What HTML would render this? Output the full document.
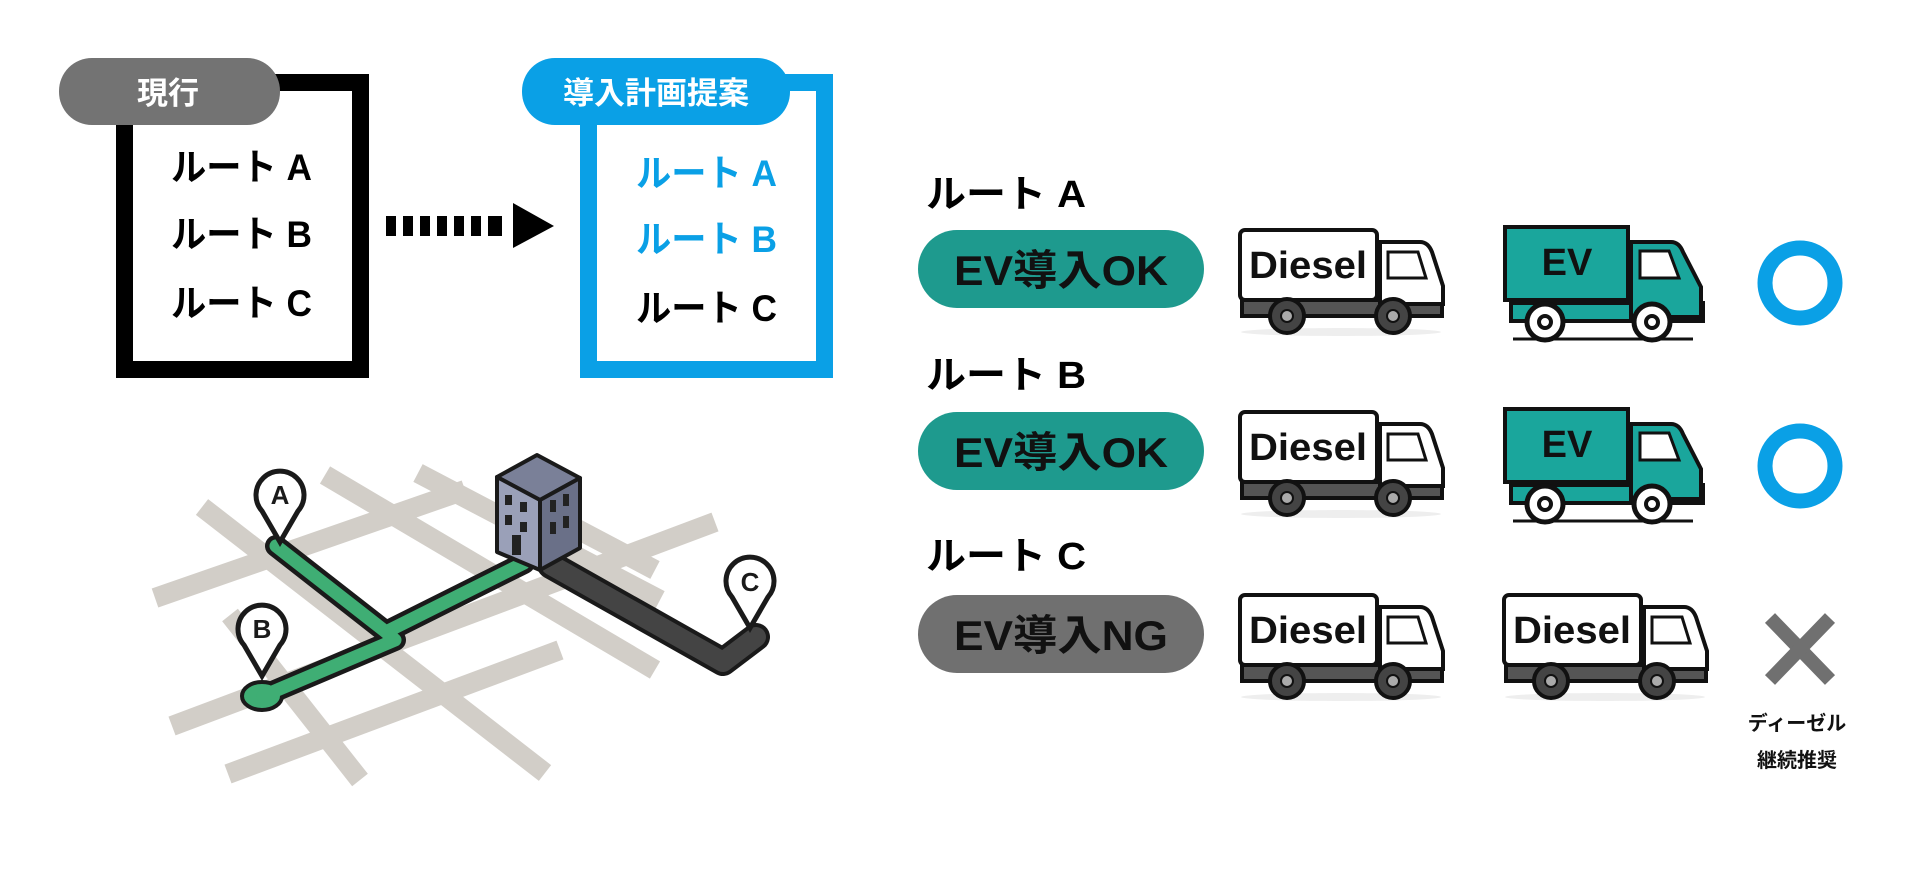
<!DOCTYPE html>
<html><head><meta charset="utf-8"><style>
html,body{margin:0;padding:0;background:#fff;width:1920px;height:869px;overflow:hidden;}
svg{display:block;}
text{font-family:"Liberation Sans","Noto Sans CJK JP",sans-serif;font-weight:bold;}
</style></head><body>
<svg width="1920" height="869" viewBox="0 0 1920 869" xmlns="http://www.w3.org/2000/svg">
<defs>
<g id="diesel">
  <ellipse cx="103" cy="104" rx="100" ry="4" fill="#eee"/>
  <rect x="4" y="72" width="200" height="16" fill="#555" stroke="#111" stroke-width="4"/>
  <path d="M142 14 H182 Q190 14 194 24 L205 58 V76 H142 Z" fill="#fff" stroke="#111" stroke-width="4"/>
  <path d="M150 24 H180 L188 50 H150 Z" fill="#fff" stroke="#111" stroke-width="3"/>
  <rect x="2" y="2" width="137" height="70" rx="5" fill="#fff" stroke="#111" stroke-width="4"/>
  <text x="70" y="50" font-size="38" text-anchor="middle" fill="#111" textLength="118" lengthAdjust="spacingAndGlyphs">Diesel</text>
  <circle cx="49" cy="88" r="17" fill="#444" stroke="#111" stroke-width="4"/><circle cx="49" cy="88" r="6" fill="#aaa" stroke="#111" stroke-width="2"/>
  <circle cx="155" cy="88" r="17" fill="#444" stroke="#111" stroke-width="4"/><circle cx="155" cy="88" r="6" fill="#aaa" stroke="#111" stroke-width="2"/>
</g>
<g id="ev">
  <line x1="10" y1="114" x2="190" y2="114" stroke="#111" stroke-width="3"/>
  <rect x="8" y="78" width="192" height="18" fill="#1aa69c" stroke="#111" stroke-width="4"/>
  <path d="M128 17 H168 Q176 17 180 27 L198 62 V92 H128 Z" fill="#1aa69c" stroke="#111" stroke-width="4"/>
  <path d="M137 26 H166 L176 53 H137 Z" fill="#fff" stroke="#111" stroke-width="3"/>
  <rect x="2" y="2" width="123" height="73" fill="#1aa69c" stroke="#111" stroke-width="4"/>
  <text x="64" y="50" font-size="38" text-anchor="middle" fill="#111">EV</text>
  <circle cx="42" cy="97" r="18" fill="#fff" stroke="#111" stroke-width="5"/><circle cx="42" cy="97" r="6" fill="#fff" stroke="#111" stroke-width="4"/>
  <circle cx="149" cy="97" r="18" fill="#fff" stroke="#111" stroke-width="5"/><circle cx="149" cy="97" r="6" fill="#fff" stroke="#111" stroke-width="4"/>
</g>
</defs>

<rect x="124.5" y="82.5" width="236" height="287" fill="#fff" stroke="#000" stroke-width="17"/>
<rect x="59" y="58" width="221" height="67" rx="33" fill="#737373"/>
<text x="168" y="104" font-size="31" fill="#fff" text-anchor="middle">現行</text>
<text x="171" y="180" font-size="37" fill="#000" textLength="141" lengthAdjust="spacingAndGlyphs">ルート A</text>
<text x="171" y="247" font-size="37" fill="#000" textLength="141" lengthAdjust="spacingAndGlyphs">ルート B</text>
<text x="171" y="316" font-size="37" fill="#000" textLength="141" lengthAdjust="spacingAndGlyphs">ルート C</text>

<g fill="#000">
<rect x="386" y="216" width="10" height="20"/><rect x="403" y="216" width="10" height="20"/><rect x="420" y="216" width="10" height="20"/><rect x="437" y="216" width="10" height="20"/><rect x="454" y="216" width="10" height="20"/><rect x="471" y="216" width="10" height="20"/><rect x="488" y="216" width="14" height="20"/>
<polygon points="513,203 554,226 513,248"/>
</g>

<rect x="588.5" y="82.5" width="236" height="287" fill="#fff" stroke="#0aa0e6" stroke-width="17"/>
<rect x="522" y="58" width="268" height="67" rx="33" fill="#0aa0e6"/>
<text x="656" y="104" font-size="31" fill="#fff" text-anchor="middle">導入計画提案</text>
<text x="636" y="186" font-size="37" fill="#0aa0e6" textLength="141" lengthAdjust="spacingAndGlyphs">ルート A</text>
<text x="636" y="252" font-size="37" fill="#0aa0e6" textLength="141" lengthAdjust="spacingAndGlyphs">ルート B</text>
<text x="636" y="321" font-size="37" fill="#000" textLength="141" lengthAdjust="spacingAndGlyphs">ルート C</text>

<g stroke="#d2cec8" stroke-width="20" stroke-linecap="butt" fill="none">
<line x1="202" y1="507" x2="545" y2="773"/>
<line x1="325" y1="475" x2="655" y2="670"/>
<line x1="418" y1="473" x2="660" y2="600"/>
<line x1="155" y1="598" x2="465" y2="490"/>
<line x1="172" y1="726" x2="715" y2="522"/>
<line x1="228" y1="774" x2="560" y2="650"/>
<line x1="230" y1="615" x2="360" y2="780"/>
<line x1="560" y1="520" x2="655" y2="570"/>
</g>
<g fill="none" stroke-linecap="round" stroke-linejoin="round">
<polyline points="276,546 386,632 524,563" stroke="#1a1a1a" stroke-width="22"/>
<polyline points="386,632 395,640 263,696" stroke="#1a1a1a" stroke-width="22"/>
<ellipse cx="262" cy="696" rx="20" ry="14" fill="#3fae74" stroke="#1a1a1a" stroke-width="4"/>
<polyline points="276,546 386,632 524,563" stroke="#3fae74" stroke-width="13"/>
<polyline points="386,632 395,640 263,696" stroke="#3fae74" stroke-width="13"/>
<polyline points="551,565 723,662 756,637" stroke="#1a1a1a" stroke-width="28"/>
<polyline points="551,565 723,662 756,637" stroke="#444" stroke-width="20"/>
</g>
<g stroke="#1a1a1a" stroke-width="4" stroke-linejoin="round">
<polygon points="497,477 537,455 580,478 540,500" fill="#7a8098"/>
<polygon points="497,477 540,500 540,570 497,552" fill="#9aa0b8"/>
<polygon points="540,500 580,478 580,548 540,570" fill="#6a7088"/>
</g>
<g fill="#222">
<rect x="505" y="495" width="7" height="10"/><rect x="520" y="502" width="7" height="10"/><rect x="505" y="515" width="7" height="10"/><rect x="520" y="522" width="7" height="10"/><rect x="512" y="535" width="9" height="20"/>
<rect x="550" y="500" width="6" height="12"/><rect x="563" y="494" width="6" height="12"/><rect x="550" y="522" width="6" height="12"/><rect x="563" y="516" width="6" height="12"/>
</g>
<g stroke="#1a1a1a" stroke-width="5" fill="#fff">
<path d="M280 542 L262 511 A24 24 0 1 1 298 511 Z"/>
<path d="M262 676 L244 645 A24 24 0 1 1 280 645 Z"/>
<path d="M750 628 L732 597 A24 24 0 1 1 768 597 Z"/>
</g>
<g font-size="26" fill="#1a1a1a" text-anchor="middle">
<text x="280" y="504">A</text><text x="262" y="638">B</text><text x="750" y="591">C</text>
</g>

<g font-size="38" fill="#000">
<text x="926" y="207" textLength="160" lengthAdjust="spacingAndGlyphs">ルート A</text>
<text x="926" y="388" textLength="160" lengthAdjust="spacingAndGlyphs">ルート B</text>
<text x="926" y="569" textLength="160" lengthAdjust="spacingAndGlyphs">ルート C</text>
</g>
<rect x="918" y="230" width="286" height="78" rx="39" fill="#1e9a8e"/>
<rect x="918" y="412" width="286" height="78" rx="39" fill="#1e9a8e"/>
<rect x="918" y="595" width="286" height="78" rx="39" fill="#707070"/>
<g font-size="42" fill="#111" text-anchor="middle">
<text x="1061" y="285" textLength="214" lengthAdjust="spacingAndGlyphs">EV導入OK</text>
<text x="1061" y="467" textLength="214" lengthAdjust="spacingAndGlyphs">EV導入OK</text>
<text x="1061" y="650" textLength="214" lengthAdjust="spacingAndGlyphs">EV導入NG</text>
</g>

<use href="#diesel" x="1238" y="228"/>
<use href="#diesel" x="1238" y="410"/>
<use href="#diesel" x="1238" y="593"/>
<use href="#ev" x="1503" y="225"/>
<use href="#ev" x="1503" y="407"/>
<use href="#diesel" x="1502" y="593"/>

<circle cx="1800" cy="283" r="35" fill="none" stroke="#0aa0e6" stroke-width="15"/>
<circle cx="1800" cy="466" r="35" fill="none" stroke="#0aa0e6" stroke-width="15"/>
<g stroke="#707070" stroke-width="14">
<line x1="1770" y1="618" x2="1830" y2="680"/><line x1="1830" y1="618" x2="1770" y2="680"/>
</g>
<text x="1797" y="730" font-size="20" fill="#111" text-anchor="middle">ディーゼル</text>
<text x="1797" y="767" font-size="20" fill="#111" text-anchor="middle">継続推奨</text>
</svg>
</body></html>
